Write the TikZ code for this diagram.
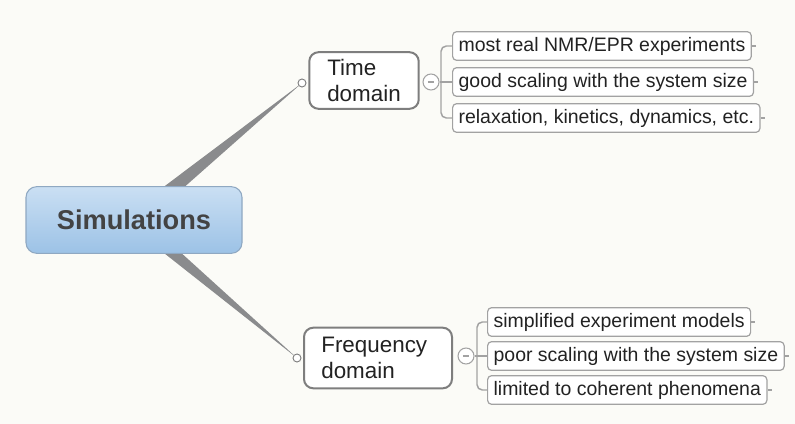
\documentclass[tikz,border=0pt]{standalone}
\usepackage{fontspec}
\setmainfont{Liberation Sans}
\usetikzlibrary{positioning, calc, backgrounds}
\definecolor{paper}{HTML}{FBFBF7}
\definecolor{simtop}{HTML}{CADFF3}
\definecolor{simbot}{HTML}{9CC2E6}
\definecolor{simrim}{HTML}{8FA8C2}
\definecolor{branch}{HTML}{8A8B8D}
\definecolor{rim}{HTML}{7E7E7E}
\definecolor{leafrim}{HTML}{A2A2A2}
\definecolor{ink}{HTML}{222222}

\begin{document}
\begin{tikzpicture}[
  x=0.75pt, y=-0.75pt,
  root/.style={draw=simrim, line width=0.8pt, top color=simtop, bottom color=simbot,
    rounded corners=8pt, minimum width=162pt, minimum height=50pt,
    font=\fontsize{20.4}{23}\selectfont\bfseries, text=ink!85},
  topic/.style={draw=rim, line width=1.5pt, fill=white, rounded corners=7pt,
    align=left, inner xsep=13.5pt, font=\fontsize{16.8}{19}\selectfont, text=ink},
  leaf/.style={draw=leafrim, line width=0.9pt, fill=white, rounded corners=3pt,
    anchor=west, inner xsep=4.5pt, minimum height=21.5pt,
    font=\fontsize{14.6}{16}\selectfont, text=ink},
  dot/.style={circle, draw=rim, fill=white, line width=0.7pt, inner sep=0pt,
    minimum size=6pt},
  fold/.style={circle, draw=leafrim, fill=white, line width=0.8pt, inner sep=0pt,
    minimum size=12pt,
    path picture={\draw[leafrim, line width=0.8pt]
      ($(path picture bounding box.west)!0.3!(path picture bounding box.east)$) --
      ($(path picture bounding box.west)!0.7!(path picture bounding box.east)$);}},
  wire/.style={draw=leafrim, line width=1.1pt},
  wedge/.style={fill=branch},
]
  \useasboundingbox (0,0) rectangle (795,424);

  % central topic
  \node[root] (sim) at (134,220) {Simulations};

  % time domain branch
  \node[topic, minimum height=42.5pt] (tdom) at (364,80.5) {Time\\domain};
  \node[dot]  (tdot)  at (302,83) {};
  \node[fold] (tfold) at (431,82) {};
  \node[leaf] (t1) at (452,46)  {most real NMR/EPR experiments};
  \node[leaf] (t2) at (452,82)  {good scaling with the system size};
  \node[leaf] (t3) at (452,118) {relaxation, kinetics, dynamics, etc.};
  \coordinate (tbr) at (441,82);

  % frequency domain branch
  \node[topic, minimum height=45.5pt, inner xsep=13pt, text width=85pt] (fdom)
    at (378,358) {Frequency\\domain};
  \node[dot]  (fdot)  at (297,358) {};
  \node[fold] (ffold) at (466,356) {};
  \node[leaf] (f1) at (487,322) {simplified experiment models};
  \node[leaf] (f2) at (487,356) {poor scaling with the system size};
  \node[leaf] (f3) at (487,390) {limited to coherent phenomena};
  \coordinate (fbr) at (477,356);

  \begin{scope}[on background layer]
    \fill[paper] (0,0) rectangle (795,424);
    \fill[wedge] ($(sim.center)!6.5pt!90:(tdot)$) -- (tdot.center)
      -- ($(sim.center)!6.5pt!-90:(tdot)$) -- cycle;
    \fill[wedge] ($(sim.center)!5.5pt!90:(fdot)$) -- (fdot.center)
      -- ($(sim.center)!5.5pt!-90:(fdot)$) -- cycle;
  \end{scope}

  % brackets and ticks
  \draw[wire, rounded corners=4pt] (t1.west) -| (tbr) |- (t3.west);
  \draw[wire] (tfold.east) -- (t2.west);
  \draw[wire, rounded corners=4pt] (f1.west) -| (fbr) |- (f3.west);
  \draw[wire] (ffold.east) -- (f2.west);
  \foreach \n in {t1,t2,t3,f1,f2,f3}
    \draw[wire] (\n.east) -- ++(4,0);
\end{tikzpicture}
\end{document}
